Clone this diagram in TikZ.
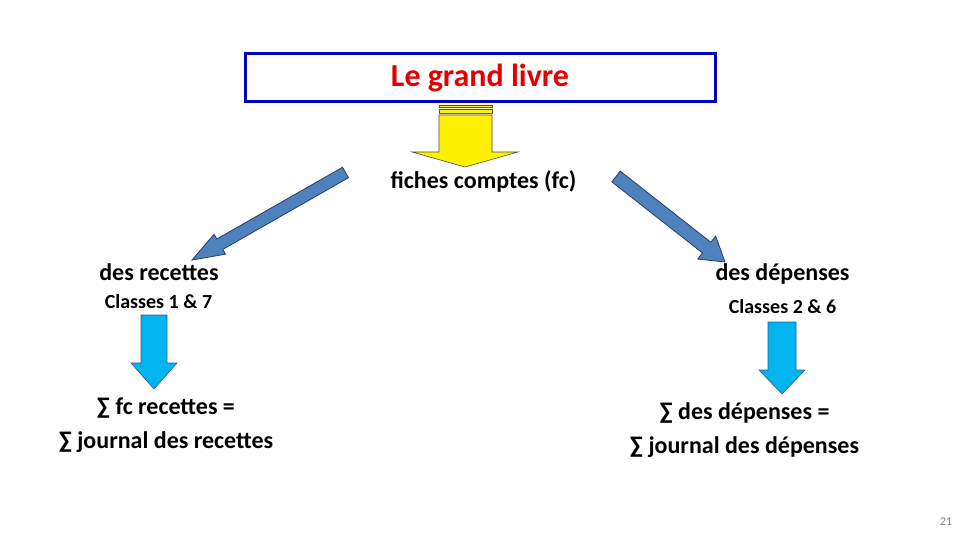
\documentclass[tikz,border=0pt]{standalone}
\usepackage{fontspec}
\setmainfont{Carlito}
\definecolor{boxblue}{RGB}{0,0,192}
\definecolor{titlered}{RGB}{226,0,0}
\definecolor{steelblue}{RGB}{79,129,189}
\definecolor{steelline}{RGB}{36,64,110}
\definecolor{skyblue}{RGB}{0,180,240}
\definecolor{skyline}{RGB}{40,90,150}
\definecolor{yellowline}{RGB}{80,80,60}
\tikzset{
	slidetext/.style={font=\bfseries\fontsize{24}{28}\selectfont, inner sep=0pt, anchor=base},
	classtext/.style={font=\bfseries\fontsize{20}{24}\selectfont, inner sep=0pt, anchor=base},
	bluearrow/.style={fill=steelblue, draw=steelline, line width=0.8pt, line join=miter},
	skyarrow/.style={fill=skyblue, draw=skyline, line width=0.6pt},
	yellowarrow/.style={fill=yellow, draw=yellowline, line width=0.6pt}
}
\begin{document}
\begin{tikzpicture}[x=1pt, y=-1pt]
	\useasboundingbox (0,0) rectangle (960,540);
	\node [draw=boxblue, line width=3pt, minimum width=470pt, minimum height=48pt, inner sep=0pt,
		text=titlered, font=\bfseries\fontsize{32}{36}\selectfont] (title) at (480,78) {Le grand livre};
	\fill [yellowarrow] (439,105) rectangle (492,107.5);
	\fill [yellowarrow] (439,109) rectangle (492,113);
	\draw [yellowarrow] (439,115) -- (492,115) -- (492,152) -- (518,152) -- (465,167)
		-- (412,152) -- (439,152) -- cycle;
	\node [slidetext] (fiches) at (483.5,189) {fiches comptes (fc)};
	\draw [bluearrow, shift={(345.5,172.5)}, rotate=209.7] (0,-6) -- (144.7,-6) -- (144.7,-11.5)
		-- (176.7,0) -- (144.7,11.5) -- (144.7,6) -- (0,6) -- cycle;
	\draw [bluearrow, shift={(616,176.5)}, rotate=-38.1] (0,-6.8) -- (115.2,-6.8) -- (115.2,-14.6)
		-- (138.5,0) -- (115.2,14.6) -- (115.2,6.8) -- (0,6.8) -- cycle;
	\node [slidetext] (recettes) at (159,280) {des recettes};
	\node [slidetext] (depenses) at (782.5,280) {des dépenses};
	\node [classtext] (classesR) at (158.5,308) {Classes 1 \& 7};
	\node [classtext] (classesD) at (782.5,313) {Classes 2 \& 6};
	\draw [skyarrow] (141,315) -- (167,315) -- (167,363) -- (177,363) -- (154,389)
		-- (131,363) -- (141,363) -- cycle;
	\draw [skyarrow] (768,322) -- (796,322) -- (796,370) -- (805,370) -- (782,394)
		-- (759,370) -- (768,370) -- cycle;
	\node [slidetext] (sumR) at (166,414) {∑ fc recettes =};
	\node [slidetext] (journalR) at (166,448) {∑ journal des recettes};
	\node [slidetext] (sumD) at (744.5,419) {∑ des dépenses =};
	\node [slidetext] (journalD) at (744.5,453) {∑ journal des dépenses};
	\node [font=\fontsize{12}{14}\selectfont, text=gray, inner sep=0pt, anchor=base] (page) at (946,525) {21};
\end{tikzpicture}
\end{document}
